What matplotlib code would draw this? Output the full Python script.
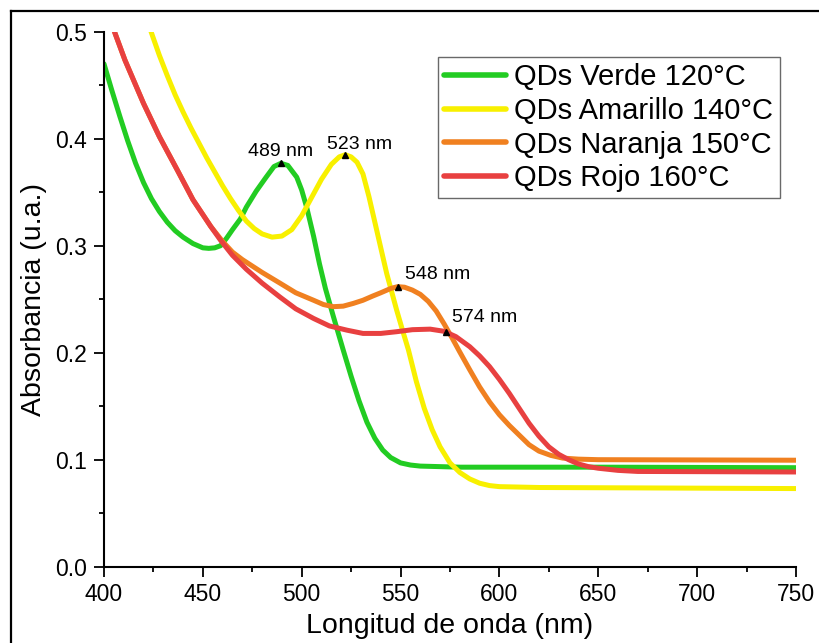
import matplotlib
matplotlib.use("Agg")
import matplotlib.pyplot as plt
from matplotlib.lines import Line2D
from matplotlib.ticker import MultipleLocator, FormatStrFormatter

plt.rcParams['font.family'] = ['Liberation Sans', 'DejaVu Sans']

# ---- data ----
green_x = [400, 404, 408, 412, 416, 420, 424, 428, 432, 436, 440, 445, 450, 453, 456, 459, 462,
           465, 469, 472, 477, 482, 486, 489.5, 493, 497.5, 500, 502.5, 506, 509, 512, 516,
           521, 525, 529, 533, 537, 541, 545, 550, 555, 560, 580, 650, 750]
green_y = [0.470, 0.445, 0.421, 0.398, 0.377, 0.359, 0.344, 0.332, 0.322, 0.314, 0.308, 0.302,
           0.298, 0.2975, 0.298, 0.300, 0.307, 0.315, 0.325, 0.336, 0.351, 0.364, 0.374, 0.377,
           0.375, 0.364, 0.352, 0.336, 0.309, 0.283, 0.260, 0.234, 0.2025, 0.178, 0.155, 0.135,
           0.120, 0.109, 0.102, 0.097, 0.095, 0.094, 0.093, 0.093, 0.0925]

yellow_x = [420, 424, 428, 432, 436, 440, 444, 448, 452, 456, 460, 464, 468, 472, 476, 480, 485,
            490, 495, 500, 505, 510, 515, 519, 522, 525, 528, 531, 534, 537, 540, 543, 548,
            551, 554, 558, 562, 566, 570, 575, 580, 585, 590, 595, 600, 620, 750]
yellow_y = [0.521, 0.499, 0.478, 0.459, 0.441, 0.425, 0.410, 0.396, 0.382, 0.369, 0.356, 0.344,
            0.333, 0.323, 0.316, 0.311, 0.308, 0.309, 0.315, 0.328, 0.345, 0.362, 0.376, 0.383,
            0.385, 0.383, 0.378, 0.367, 0.346, 0.322, 0.298, 0.274, 0.240, 0.221, 0.2025, 0.173,
            0.148, 0.128, 0.112, 0.097, 0.088, 0.082, 0.078, 0.0758, 0.0748, 0.074, 0.073]

orange_x = [400, 405.6, 410.6, 420, 428, 437, 445, 454, 460, 465, 470, 475, 480, 489, 497, 506,
            511, 516, 521, 526, 531, 536, 540, 545, 548.5, 552, 556, 560, 564, 568, 572, 576,
            580, 585, 590, 595, 600, 605, 610, 615, 620, 626, 632, 640, 650, 750]
orange_y = [0.530, 0.4985, 0.4735, 0.433, 0.402, 0.371, 0.343, 0.318, 0.304, 0.294, 0.287,
            0.281, 0.275, 0.265, 0.256, 0.249, 0.245, 0.243, 0.2435, 0.246, 0.249, 0.253, 0.256,
            0.260, 0.2617, 0.2612, 0.2585, 0.2545, 0.248, 0.239, 0.227, 0.214, 0.2005, 0.184,
            0.168, 0.154, 0.142, 0.132, 0.123, 0.114, 0.108, 0.104, 0.1015, 0.1005, 0.100, 0.0995]

red_x = [400, 405.6, 410.6, 420, 428, 437, 445, 454, 459, 465, 472, 480, 489, 497, 506, 514,
         523, 531, 540, 548, 556, 565, 572, 578, 585, 590, 595, 600, 605, 610, 615, 620, 625,
         630, 635, 640, 645, 650, 660, 670, 750]
red_y = [0.530, 0.4985, 0.4735, 0.433, 0.402, 0.371, 0.343, 0.318, 0.305, 0.291, 0.278, 0.265,
         0.252, 0.241, 0.232, 0.225, 0.221, 0.218, 0.218, 0.2196, 0.2215, 0.222, 0.220, 0.215,
         0.2056, 0.197, 0.187, 0.175, 0.162, 0.148, 0.134, 0.122, 0.112, 0.105, 0.100, 0.096,
         0.0935, 0.092, 0.090, 0.089, 0.0885]

series_labels = ['QDs Verde 120°C', 'QDs Amarillo 140°C', 'QDs Naranja 150°C', 'QDs Rojo 160°C']
series_colors = ['#22cc22', '#f8f000', '#f08020', '#e84040']

peak_x = [489.5, 522.0, 548.5, 573.0]
peak_y = [0.377, 0.385, 0.2617, 0.2196]
peak_labels = ['489 nm', '523 nm', '548 nm', '574 nm']

# ---- figure ----
fig = plt.figure(figsize=(8.2, 6.43), dpi=100)
ax = fig.add_axes([0.1268, 0.1187, 0.8439, 0.832])

xs = [green_x, yellow_x, orange_x, red_x]
ys = [green_y, yellow_y, orange_y, red_y]
for x, y, lab, col in zip(xs, ys, series_labels, series_colors):
    ax.plot(x, y, color=col, lw=3.6, label=lab, solid_capstyle='round',
            solid_joinstyle='round')

ax.plot(peak_x, peak_y, linestyle='none', marker='^', color='black', markersize=5)
offsets = [(0, 3, 'center'), (14, 2, 'center'), (7, 4, 'left'), (6, 6, 'left')]
for px, py, t, (dx, dy, ha) in zip(peak_x, peak_y, peak_labels, offsets):
    ax.annotate(t, (px, py), xytext=(dx, dy), textcoords='offset pixels',
                ha=ha, va='bottom', fontsize=14)

ax.set_xlim(400, 750)
ax.set_ylim(0.0, 0.5)
ax.xaxis.set_major_locator(MultipleLocator(50))
ax.xaxis.set_minor_locator(MultipleLocator(25))
ax.yaxis.set_major_locator(MultipleLocator(0.1))
ax.yaxis.set_minor_locator(MultipleLocator(0.05))
ax.yaxis.set_major_formatter(FormatStrFormatter('%.1f'))

for side in ['top', 'right']:
    ax.spines[side].set_visible(False)
for side in ['left', 'bottom']:
    ax.spines[side].set_linewidth(1.5)

ax.tick_params(which='major', direction='out', length=7, width=1.3, labelsize=16.5, pad=5)
ax.tick_params(which='minor', direction='out', length=3.6, width=1.3)

ax.set_xlabel('Longitud de onda (nm)', fontsize=20.5, labelpad=5)
ax.set_ylabel('Absorbancia (u.a.)', fontsize=20.5, labelpad=6)

leg = ax.legend(loc='upper left', bbox_to_anchor=(0.4827, 0.9527), borderaxespad=0,
                fontsize=21, frameon=True, fancybox=False, edgecolor='#444444',
                handlelength=2.12, handletextpad=0.27, labelspacing=0.19, borderpad=0.22)
leg.get_frame().set_linewidth(1.0)
for h in leg.get_lines():
    h.set_linewidth(4)

# figure border (top and left edges visible in the reference)
fig.add_artist(Line2D([11/820, 1.0], [1 - 11/643, 1 - 11/643], transform=fig.transFigure,
                      color='black', lw=1.6))
fig.add_artist(Line2D([11/820, 11/820], [0.0, 1 - 11/643], transform=fig.transFigure,
                      color='black', lw=1.6))

fig.savefig('out.png', dpi=100)
